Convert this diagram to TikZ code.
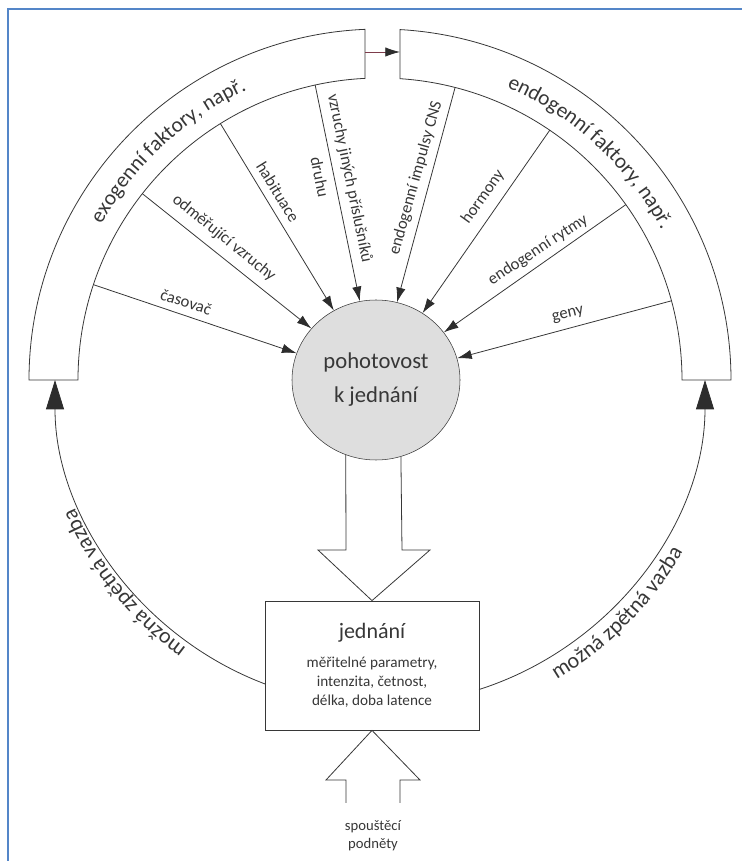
\documentclass[tikz,border=0pt]{standalone}
\usepackage{fontspec}
\setmainfont{Carlito}
\usetikzlibrary{arrows.meta,calc,decorations.text,shapes.geometric}
\definecolor{ink}{RGB}{55,55,55}
\definecolor{headc}{RGB}{45,45,45}
\definecolor{circfill}{RGB}{222,222,222}
\definecolor{frameblue}{RGB}{84,134,200}
\definecolor{redline}{RGB}{125,60,75}
\newcommand\bandfont{\fontsize{16}{19}\selectfont}
\newcommand\fbfont{\fontsize{16.5}{20}\selectfont}
\begin{document}
\begin{tikzpicture}[x=0.75pt,y=0.75pt,
  line/.style={draw=ink, line width=0.6pt},
  spoke/.style={line, -{Latex[length=11pt,width=7pt,color=headc]}},
  spokelabel/.style={font=\fontsize{12.5}{16.5}\selectfont, text=ink, inner sep=0pt, align=center},
  feedback/.style={line, -{Triangle[length=22pt,width=13.5pt,color=headc]}},
  band/.style={line, fill=white},
  blockarrow/.style={line, line join=miter},
  frameline/.style={draw=frameblue, line width=1.5pt}
]
\useasboundingbox (0,0) rectangle (742,861);
\draw[frameline] (7.5,0) -- (7.5,852) -- (742,852);

\coordinate (C) at (380,481);

% bands
\draw[band] ($(C)+(180:351)$) arc[start angle=180, end angle=92.45, radius=351]
  -- ($(C)+(92.85:302)$) arc[start angle=92.85, end angle=180, radius=302] -- cycle;
\draw[band] ($(C)+(86.73:351)$) arc[start angle=86.73, end angle=0, radius=351]
  -- ($(C)+(0:302)$) arc[start angle=0, end angle=86.2, radius=302] -- cycle;

\path[decorate, decoration={text along path, text align=center,
  text={|\bandfont\color{ink}|exogenní faktory, např.}}]
  ($(C)+(160:319)$) arc[start angle=160, end angle=105.5, radius=319];
\path[decorate, decoration={text along path, text align=center,
  text={|\bandfont\color{ink}|endogenní faktory, např.}}]
  ($(C)+(75:319)$) arc[start angle=75, end angle=19.6, radius=319];

% arrow between bands
\coordinate (la) at (365,809);
\coordinate (rb) at (400,809);
\draw[draw=redline, line width=0.6pt, -{Latex[length=11pt,width=7pt,color=headc]}] (la) -- (rb);

% central circle
\node[ellipse, draw=ink, fill=circfill, minimum width=126pt, minimum height=120pt,
  inner sep=0pt, align=center, text=ink, font=\fontsize{17}{25.5}\selectfont]
  (circ) at (376,481) {\raisebox{3pt}{pohotovost}\\\raisebox{3pt}{k jednání}};

% spokes
\coordinate (s1) at ($(C)+(161.6:302)$);
\coordinate (s2) at ($(C)+(141.9:302)$);
\coordinate (s3) at ($(C)+(121.9:302)$);
\coordinate (s4) at ($(C)+(102.4:302)$);
\coordinate (s5) at ($(C)+(75.6:302)$);
\coordinate (s6) at ($(C)+(55.8:302)$);
\coordinate (s7) at ($(C)+(35.5:302)$);
\coordinate (s8) at ($(C)+(15.2:302)$);
\foreach \s in {s1,s2,s3,s4,s5,s6,s7,s8}{\draw[spoke] (\s) -- (circ);}

\node[spokelabel, rotate=-17.9] (l1) at (186,559) {časovač};
\node[spokelabel, rotate=-39] (l2) at (224,623) {odměřující vzruchy};
\node[spokelabel, rotate=-58.4] (l3) at (278,669) {habituace};
\node[spokelabel, rotate=-78.4] (l4a) at (349.5,682.6) {vzruchy jiných příslušníků};
\node[spokelabel, rotate=-78.4] (l4b) at (320,683.8) {druhu};
\node[spokelabel, rotate=74.3] (l5) at (416,683) {endogenní impulsy CNS};
\node[spokelabel, rotate=54.3] (l6) at (483,664) {hormony};
\node[spokelabel, rotate=33] (l7) at (538,611) {endogenní rytmy};
\node[spokelabel, rotate=13.3] (l8) at (568,546) {geny};

% action box
\node[line, rectangle, minimum width=160.5pt, minimum height=96.75pt, inner sep=0pt,
  align=center, text=ink, font=\fontsize{11.4}{14.5}\selectfont]
  (box) at (372,195.5)
  {{\fontsize{16.5}{20}\selectfont jednání}\\[7pt]měřitelné parametry,\\intenzita, četnost,\\délka, doba latence};

% block arrow circle -> box
\draw[blockarrow] (circ.248.1) -- (346,311) -- (318,311) -- (box.north)
  -- (430,311) -- (402,311) -- (circ.288.9);

% block arrow trigger -> box
\draw[blockarrow] (346,58) -- (346,81) -- (326,81) -- (box.south)
  -- (420,81) -- (400,81) -- (400,58);
\node[spokelabel, font=\fontsize{11}{13.5}\selectfont] (trig) at (373,25) {spouštěcí\\podněty};

% feedback arcs
\coordinate (fbL) at ($(C)+(249.3:325)$);
\coordinate (fbR) at ($(C)+(287.74:325)$);
\draw[feedback] (fbL) arc[start angle=249.3, end angle=180, radius=325];
\draw[feedback] (fbR) arc[start angle=287.74, end angle=360, radius=325];

\path[decorate, decoration={text along path, text align=center,
  text={|\fbfont\color{ink}|možná zpětná vazba}}]
  ($(C)+(250:331)$) arc[start angle=250, end angle=187, radius=331];
\path[decorate, decoration={text along path, text align=center,
  text={|\fbfont\color{ink}|možná zpětná vazba}}]
  ($(C)+(285:348)$) arc[start angle=285, end angle=346, radius=348];
\end{tikzpicture}
\end{document}
